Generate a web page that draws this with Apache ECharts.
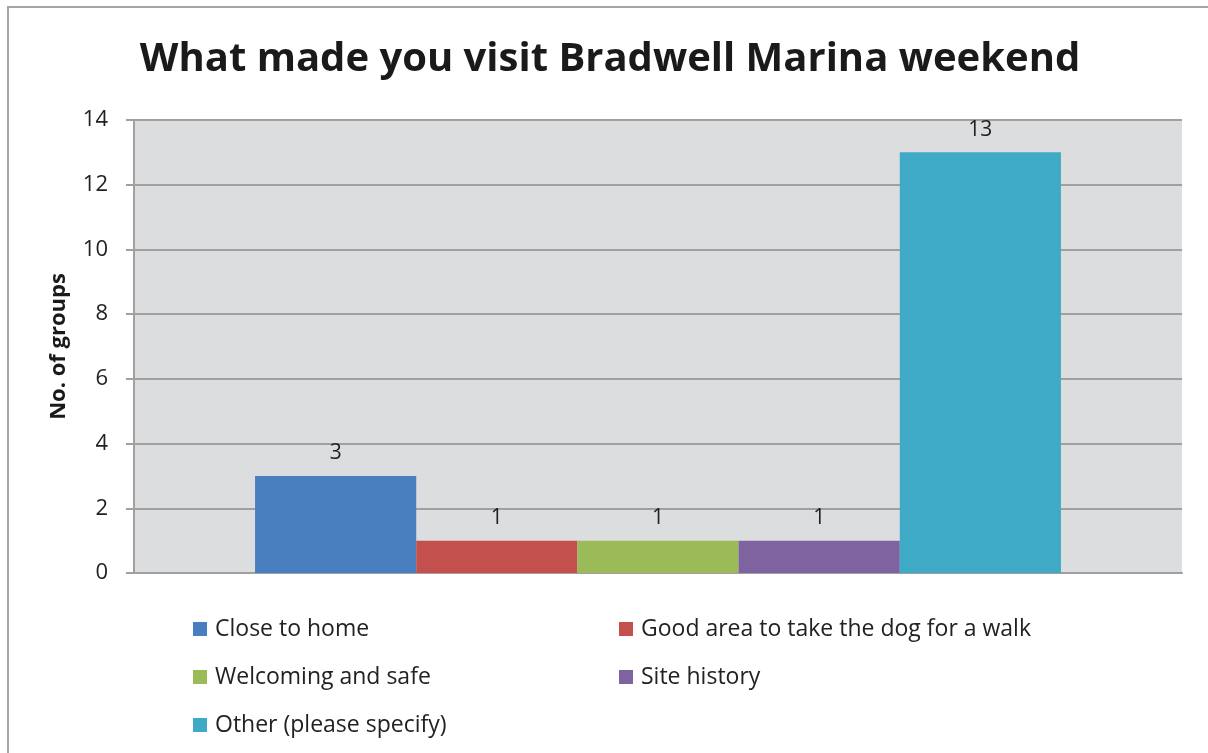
<!DOCTYPE html>
<html><head><meta charset="utf-8">
<script src="https://cdn.jsdelivr.net/npm/echarts@6/dist/echarts.min.js"></script>
<style>html,body{margin:0;padding:0;background:#fff}#c{width:1208px;height:753px}</style>
</head><body><div id="c"></div>
<script>
const titleText = 'What made you visit Bradwell Marina weekend';
const yAxisName = 'No. of groups';
const categories = [''];
const seriesNames = ['Close to home','Good area to take the dog for a walk','Welcoming and safe','Site history','Other (please specify)'];
const seriesValues = [3, 1, 1, 1, 13];
const seriesColors = ['#4A7FBF','#C4504D','#9BBB59','#7F63A1','#3FAAC6'];
const yTicks = {min: 0, max: 14, interval: 2};

const FONT = 'Open Sans';
const chart = echarts.init(document.getElementById('c'));
const series = seriesNames.map((n, i) => ({
  name: n, type: 'bar', data: [seriesValues[i]],
  barGap: '0%', barCategoryGap: '23.1%',
  itemStyle: {color: seriesColors[i]},
  label: {show: true, position: 'top', distance: 12, color: '#222', fontFamily: FONT, fontSize: 21},
  emphasis: {disabled: true}
}));
const legendBase = {orient: 'vertical', top: 616, padding: 0,
  itemWidth: 14, itemHeight: 14, itemGap: 22, icon: 'rect',
  textStyle: {fontFamily: FONT, fontSize: 23, color: '#222', lineHeight: 26, padding: [0,0,0,3]}};
chart.setOption({
  animation: false,
  title: {text: titleText, left: 605, textAlign: 'center', top: 35,
    textStyle: {fontFamily: FONT, fontWeight: 'bold', fontSize: 40, color: '#1a1a1a'}},
  graphic: [{type: 'rect', shape: {x: 8, y: 7, width: 1400, height: 1000},
    style: {fill: 'none', stroke: '#a6a6a6', lineWidth: 2}, silent: true}],
  grid: {left: 134, right: 26, top: 120, bottom: 180, show: true, backgroundColor: '#DCDDDF', borderWidth: 0},
  legend: [
    Object.assign({}, legendBase, {data: [seriesNames[0], seriesNames[2], seriesNames[4]], left: 193}),
    Object.assign({}, legendBase, {data: [seriesNames[1], seriesNames[3]], left: 619})
  ],
  xAxis: {type: 'category', data: categories,
    axisLine: {lineStyle: {color: '#a0a0a0', width: 2}}, axisTick: {show: false}, axisLabel: {show: false}},
  yAxis: {type: 'value', min: yTicks.min, max: yTicks.max, interval: yTicks.interval,
    name: yAxisName, nameLocation: 'middle', nameGap: 64,
    nameTextStyle: {fontFamily: FONT, fontWeight: 'bold', fontSize: 22, color: '#1a1a1a'},
    axisLine: {show: true, lineStyle: {color: '#a0a0a0', width: 2}},
    axisTick: {show: true, length: 8, lineStyle: {color: '#a0a0a0', width: 2}},
    axisLabel: {fontFamily: FONT, fontSize: 22, color: '#222', margin: 26},
    splitLine: {lineStyle: {color: '#a0a0a0', width: 2}}},
  series
});
</script></body></html>
